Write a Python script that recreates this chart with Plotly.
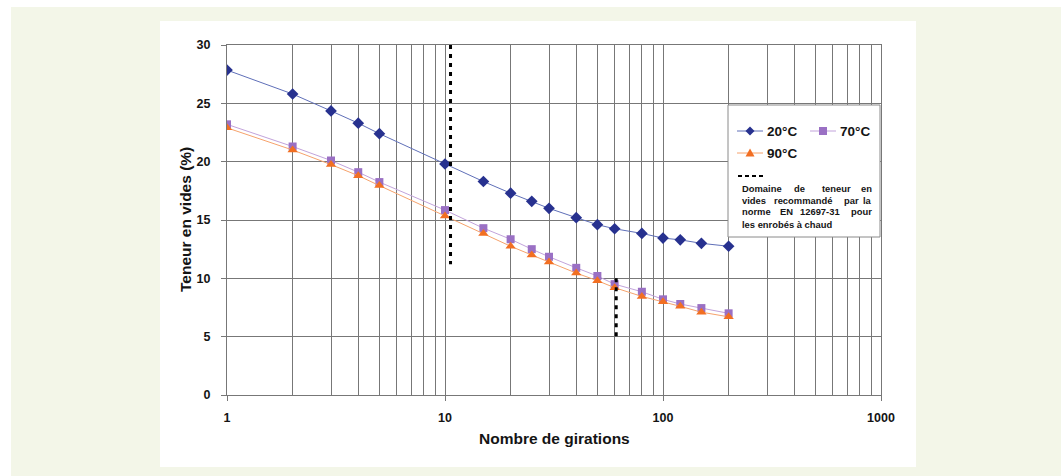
import plotly.graph_objects as go

# ---- data ----
girations = [1, 2, 3, 4, 5, 10, 15, 20, 25, 30, 40, 50, 60, 80, 100, 120, 150, 200]
vides_20 = [27.85, 25.8, 24.35, 23.3, 22.4, 19.8, 18.3, 17.3, 16.6, 16.0, 15.2, 14.6, 14.25, 13.85, 13.45, 13.3, 13.0, 12.75]
vides_70 = [23.2, 21.3, 20.1, 19.1, 18.25, 15.85, 14.3, 13.35, 12.5, 11.85, 10.9, 10.2, 9.5, 8.85, 8.2, 7.8, 7.45, 7.0]
vides_90 = [22.9, 21.0, 19.75, 18.8, 17.95, 15.35, 13.85, 12.75, 12.0, 11.4, 10.45, 9.8, 9.2, 8.45, 8.0, 7.6, 7.1, 6.7]
norme_x1 = [10.6, 10.6]
norme_y1 = [30, 11.2]
norme_x2 = [61, 61]
norme_y2 = [10, 5]
x_ticks = [1, 10, 100, 1000]
x_minor = [d * m for m in (1, 10, 100) for d in range(2, 10)]
series_names = ["20°C", "70°C", "90°C"]

FONT = "Liberation Sans, Arial, sans-serif"
W, H = 1061, 476
L, R, T, B = 227, 881, 45, 395

def px(x):
    return (x - L) / (R - L)

def py(y):
    return (B - y) / (B - T)

GRID = "#777777"
TXT = "#141414"
C20, C20L = "#27318f", "#5f6fb8"
C70, C70L = "#9a70c4", "#c2a3db"
C90, C90L = "#f26f22", "#f6a26c"

fig = go.Figure()
fig.add_trace(go.Scatter(x=girations, y=vides_20, name=series_names[0], mode="lines+markers",
                         line=dict(color=C20L, width=1), marker=dict(symbol="diamond", size=9, color=C20)))
fig.add_trace(go.Scatter(x=girations, y=vides_70, name=series_names[1], mode="lines+markers",
                         line=dict(color=C70L, width=1), marker=dict(symbol="square", size=8, color=C70)))
fig.add_trace(go.Scatter(x=girations, y=vides_90, name=series_names[2], mode="lines+markers",
                         line=dict(color=C90L, width=1), marker=dict(symbol="triangle-up", size=9, color=C90)))
for xs, ys in ((norme_x1, norme_y1), (norme_x2, norme_y2)):
    fig.add_trace(go.Scatter(x=xs, y=ys, mode="lines", line=dict(color="black", width=3, dash="4px,5px"),
                             showlegend=False, hoverinfo="skip"))

shapes = [
    dict(type="rect", xref="paper", yref="paper", x0=px(11), x1=px(W + 5), y0=py(7), y1=py(H + 5),
         fillcolor="#f3f6e8", line=dict(width=0), layer="below"),
    dict(type="rect", xref="paper", yref="paper", x0=px(160), x1=px(916), y0=py(21), y1=py(467),
         fillcolor="white", line=dict(width=0), layer="below"),
    # legend box
    dict(type="rect", xref="paper", yref="paper", x0=px(728), x1=px(880), y0=py(105), y1=py(237),
         fillcolor="white", line=dict(color="#8a8a8a", width=1), layer="above"),
]

def sym_line(x0, x1, y, color):
    return dict(type="line", xref="paper", yref="paper", x0=px(x0), x1=px(x1), y0=py(y), y1=py(y),
                line=dict(color=color, width=1), layer="above")

def sym_path(cx, cy, path, color):
    return dict(type="path", xref="paper", yref="paper", xsizemode="pixel", ysizemode="pixel",
                xanchor=px(cx), yanchor=py(cy), path=path, fillcolor=color, line=dict(width=0), layer="above")

DIAM = "M 0 -4.5 L 4.5 0 L 0 4.5 L -4.5 0 Z"
SQ = "M -4 -4 L 4 -4 L 4 4 L -4 4 Z"
TRI = "M -4.5 -3.5 L 4.5 -3.5 L 0 4.5 Z"

shapes += [
    sym_line(737, 763, 131, C20L), sym_path(750, 131, DIAM, C20),
    sym_line(810, 836, 131, C70L), sym_path(823, 131, SQ, C70),
    sym_line(737, 763, 153, C90L), sym_path(750, 153, TRI, C90),
    dict(type="line", xref="paper", yref="paper", x0=px(738), x1=px(766), y0=py(176), y1=py(176),
         line=dict(color="black", width=2, dash="4px,3px"), layer="above"),
]

annotations = []

def txt(x, y, s, size, anchor="left"):
    annotations.append(dict(xref="paper", yref="paper", x=px(x), y=py(y), text=s, showarrow=False,
                            xanchor=anchor, yanchor="middle",
                            font=dict(family=FONT, size=size, color=TXT, weight="bold")))

txt(765, 131, series_names[0], 13.5)
txt(838, 131, series_names[1], 13.5)
txt(765, 153, series_names[2], 13.5)

# legend description, justified word by word like the original
desc = [
    (188, [(740, "Domaine", "left"), (792, "de", "left"), (820, "teneur", "left"), (874, "en", "right")]),
    (200, [(740, "vides", "left"), (772, "recommandé", "left"), (842, "par", "left"), (874, "la", "right")]),
    (212, [(740, "norme", "left"), (778, "EN", "left"), (798, "12697-31", "left"), (874, "pour", "right")]),
    (224, [(740, "les enrobés à chaud", "left")]),
]
for yy, words in desc:
    for xx, w, anc in words:
        txt(xx, yy, w, 9.4, anc)

# axis titles
annotations.append(dict(xref="paper", yref="paper", x=0.5, y=py(438), text="Nombre de girations",
                        showarrow=False, xanchor="center", yanchor="middle",
                        font=dict(family=FONT, size=15.5, color=TXT, weight="bold")))
annotations.append(dict(xref="paper", yref="paper", x=px(185), y=py(220), text="Teneur en vides (%)",
                        showarrow=False, xanchor="center", yanchor="middle", textangle=-90,
                        font=dict(family=FONT, size=15.5, color=TXT, weight="bold")))

tickfont = dict(family=FONT, size=12.5, color=TXT, weight="bold")

fig.update_layout(
    width=W, height=H, margin=dict(l=L, r=W - R, t=T, b=H - B, pad=0),
    paper_bgcolor="white", plot_bgcolor="white", showlegend=False,
    shapes=shapes, annotations=annotations,
    xaxis=dict(type="log", range=[0, 3], tickvals=x_ticks, ticktext=[str(v) for v in x_ticks],
               ticks="outside", ticklen=5, tickcolor=GRID, tickfont=tickfont, ticklabelstandoff=6,
               showgrid=True, gridcolor=GRID, gridwidth=1, showline=True, linecolor=GRID, mirror=True,
               zeroline=False,
               minor=dict(tickvals=x_minor, showgrid=True, gridcolor=GRID, gridwidth=1, ticks="")),
    yaxis=dict(range=[0, 30], tickvals=[0, 5, 10, 15, 20, 25, 30], ticks="outside", ticklen=5,
               tickcolor=GRID, tickfont=tickfont, ticklabelstandoff=8,
               showgrid=True, gridcolor=GRID, gridwidth=1, showline=True, linecolor=GRID, mirror=True,
               zeroline=False),
)

fig.write_html("out.html")
